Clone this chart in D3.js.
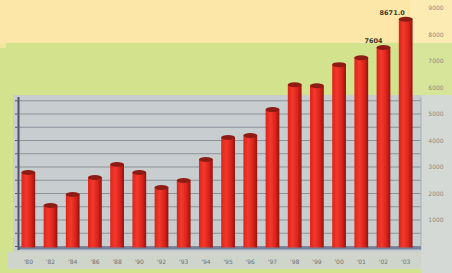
<!DOCTYPE html>
<html><head><meta charset="utf-8">
<script src="https://cdn.jsdelivr.net/npm/d3@7"></script>
<style>html,body{margin:0;padding:0;background:#d3e28c;}svg{display:block;}</style>
</head><body>
<svg id="c" width="452" height="273"></svg>
<script>
const categories = ["'80","'82","'84","'86","'88","'90","'92","'93","'94","'95","'96","'97","'98","'99","'00","'01","'02","'03"];
const values = [2885,1640,2055,2696,3186,2885,2319,2583,3375,4204,4280,5260,6200,6160,6957,7221,7604,8671];
const valueLabels = {16:"7604",17:"8671.0"};
const yTicks = [1000,2000,3000,4000,5000,6000,7000,8000,9000];
const gridVals = d3.range(0, 5501, 500);

const svg = d3.select("#c");
const W = 452, H = 273;
const x = d3.scaleBand().domain(categories).range([17, 417]).paddingInner(0.38).paddingOuter(0.2);
const y = d3.scaleLinear().domain([0, 9000]).range([246.5, 8]);

// backgrounds
svg.append("rect").attr("x",0).attr("y",0).attr("width",W).attr("height",H).attr("fill","#d3e28c");
svg.append("rect").attr("x",0).attr("y",0).attr("width",W).attr("height",43).attr("fill","#fde7a8");
svg.append("rect").attr("x",0).attr("y",43).attr("width",6).attr("height",5).attr("fill","#f5e6a0");
svg.append("rect").attr("x",410).attr("y",0).attr("width",42).attr("height",43).attr("fill","#fdebb4");
svg.append("rect").attr("x",410).attr("y",43).attr("width",42).attr("height",52).attr("fill","#d6e59a");
// plot area
svg.append("rect").attr("x",13).attr("y",95).attr("width",439).attr("height",160).attr("fill","#c8cdd0");
svg.append("rect").attr("x",421).attr("y",95).attr("width",31).attr("height",178).attr("fill","#d5d9d5");
svg.append("rect").attr("x",8).attr("y",252).attr("width",413).attr("height",17).attr("fill","#cfd5cb");

// gridlines
svg.append("g").selectAll("line").data(gridVals).join("line")
  .attr("x1",18).attr("x2",421)
  .attr("y1",d=>y(d)).attr("y2",d=>y(d))
  .attr("stroke","#8c9298").attr("stroke-width",1);
svg.append("line").attr("x1",421).attr("x2",421).attr("y1",97).attr("y2",250).attr("stroke","#a9adb5");
// floor
svg.append("rect").attr("x",18).attr("y",y(0)).attr("width",403).attr("height",3).attr("fill","#76809a");
// left axis
svg.append("line").attr("x1",18.5).attr("x2",18.5).attr("y1",97).attr("y2",250).attr("stroke","#4d5468").attr("stroke-width",2);
svg.append("g").selectAll("line").data(gridVals).join("line")
  .attr("x1",15).attr("x2",19).attr("y1",d=>y(d)).attr("y2",d=>y(d)).attr("stroke","#5a6070");

// bars
const defs = svg.append("defs");
const grad = defs.append("linearGradient").attr("id","bg").attr("x1","0").attr("x2","1").attr("y1","0").attr("y2","0");
grad.append("stop").attr("offset","0").attr("stop-color","#dc241a");
grad.append("stop").attr("offset","0.35").attr("stop-color","#f3392c");
grad.append("stop").attr("offset","0.72").attr("stop-color","#d8221a");
grad.append("stop").attr("offset","1").attr("stop-color","#921510");

const bars = svg.append("g").selectAll("g").data(values).join("g");
bars.append("rect")
  .attr("x",(d,i)=>x(categories[i]))
  .attr("y",d=>y(d)+2)
  .attr("width",x.bandwidth())
  .attr("height",d=>y(0)-y(d)-1)
  .attr("fill","url(#bg)");
bars.append("ellipse")
  .attr("cx",(d,i)=>x(categories[i])+x.bandwidth()/2)
  .attr("cy",d=>y(d)+2.5)
  .attr("rx",x.bandwidth()/2)
  .attr("ry",2.5)
  .attr("fill","#8e1c14");

// value labels
svg.append("g").selectAll("text").data(Object.keys(valueLabels)).join("text")
  .attr("x",d=>x(categories[+d])+x.bandwidth()/2 - 1)
  .attr("y",d=>y(values[+d])-2)
  .attr("text-anchor","end")
  .attr("font-family","DejaVu Sans, sans-serif").attr("font-size",6.5).attr("font-weight","bold")
  .attr("fill","#3a3a30")
  .text(d=>valueLabels[d]);

// right axis labels
svg.append("g").selectAll("text").data(yTicks).join("text")
  .attr("x",436).attr("y",d=>y(d)+2)
  .attr("text-anchor","middle")
  .attr("font-family","DejaVu Sans, sans-serif").attr("font-size",6)
  .attr("fill","#8a8a82")
  .text(d=>d);

// category labels
svg.append("g").selectAll("text").data(categories).join("text")
  .attr("x",d=>x(d)+x.bandwidth()/2).attr("y",264)
  .attr("text-anchor","middle")
  .attr("font-family","DejaVu Sans, sans-serif").attr("font-size",6)
  .attr("fill","#6e7272")
  .text(d=>d);
</script>
</body></html>
